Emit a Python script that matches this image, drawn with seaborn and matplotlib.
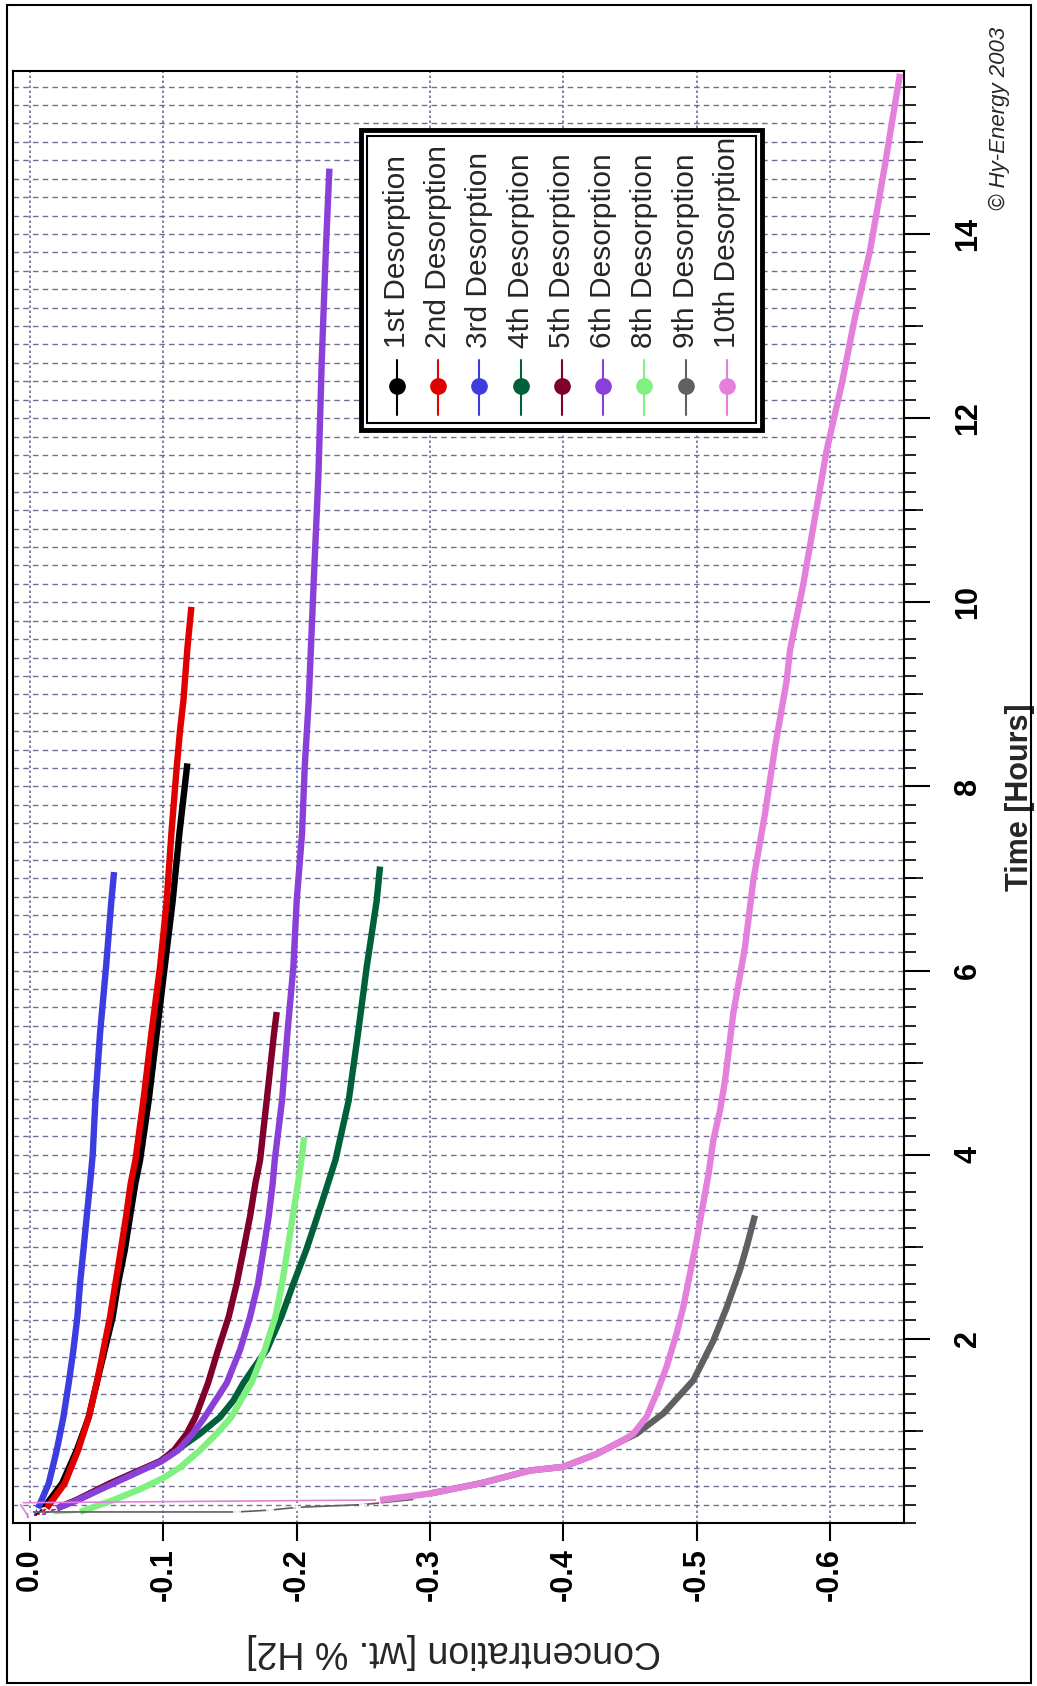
import numpy as np
import pandas as pd
import matplotlib
matplotlib.use('Agg')
import matplotlib.pyplot as plt
import seaborn as sns
from matplotlib.patches import Rectangle
from matplotlib.ticker import MultipleLocator

# desorption runs: time [h] and concentration [wt.% H2]
labels = ['1st Desorption', '2nd Desorption', '3rd Desorption', '4th Desorption',
          '5th Desorption', '6th Desorption', '8th Desorption', '9th Desorption',
          '10th Desorption']
colors = ['#000000', '#e00000', '#3c3ce0', '#00603a', '#80002a', '#8a40d8',
          '#80f080', '#606060', '#e480dc']

t1 = [0.06, 0.16, 0.43, 0.79, 1.15, 1.52, 1.88, 2.24, 2.60, 2.96, 3.33, 3.69, 3.94, 4.59, 5.32, 6.04, 6.76, 7.49, 8.25]
c1 = [-0.002, -0.010, -0.024, -0.035, -0.044, -0.050, -0.056, -0.062, -0.066, -0.071, -0.075, -0.079, -0.0825, -0.089, -0.095, -0.101, -0.107, -0.112, -0.118]

t2 = [0.06, 0.16, 0.43, 0.79, 1.15, 1.52, 1.88, 2.24, 2.60, 2.96, 3.33, 3.69, 3.94, 4.59, 5.32, 6.04, 6.76, 7.49, 8.21, 8.61, 8.93, 9.5, 9.95]
c2 = [-0.003, -0.0125, -0.026, -0.036, -0.044, -0.050, -0.055, -0.060, -0.064, -0.068, -0.072, -0.0755, -0.079, -0.085, -0.091, -0.0975, -0.1025, -0.106, -0.110, -0.1125, -0.115, -0.118, -0.121]

t3 = [0.06, 0.16, 0.43, 0.79, 1.15, 1.52, 1.88, 2.24, 2.60, 2.96, 3.33, 3.69, 4.0, 4.59, 5.32, 6.04, 6.76, 7.07]
c3 = [-0.002, -0.006, -0.014, -0.020, -0.025, -0.029, -0.0325, -0.0355, -0.0375, -0.040, -0.0425, -0.045, -0.047, -0.049, -0.0525, -0.057, -0.061, -0.063]

t4 = [0.08, 0.16, 0.25, 0.43, 0.67, 0.79, 0.97, 1.15, 1.33, 1.52, 1.70, 1.88, 2.24, 2.60, 2.96, 3.33, 3.69, 3.94, 4.59, 5.32, 6.04, 6.76, 7.13]
c4 = [-0.008, -0.02, -0.035, -0.06, -0.0975, -0.11, -0.1275, -0.1425, -0.1525, -0.160, -0.1685, -0.1775, -0.1885, -0.1975, -0.207, -0.2155, -0.2235, -0.229, -0.239, -0.246, -0.2525, -0.26, -0.2625]

t5 = [0.08, 0.16, 0.25, 0.43, 0.67, 0.79, 0.97, 1.15, 1.52, 1.88, 2.24, 2.60, 2.96, 3.33, 3.69, 3.94, 4.59, 5.32, 5.55]
c5 = [-0.008, -0.02, -0.035, -0.06, -0.0975, -0.108, -0.1175, -0.124, -0.1335, -0.141, -0.149, -0.155, -0.160, -0.165, -0.169, -0.1725, -0.1775, -0.183, -0.185]

t6 = [0.08, 0.16, 0.25, 0.43, 0.67, 0.79, 0.97, 1.15, 1.52, 1.88, 2.24, 2.60, 2.96, 3.33, 3.69, 3.94, 4.59, 5.32, 6.04, 6.76, 7.49, 8.21, 8.93, 10.14, 11.39, 12.63, 13.88, 14.71]
c6 = [-0.008, -0.02, -0.036, -0.0625, -0.0985, -0.111, -0.122, -0.131, -0.1475, -0.1575, -0.165, -0.171, -0.175, -0.179, -0.182, -0.1835, -0.189, -0.193, -0.1975, -0.200, -0.204, -0.206, -0.209, -0.2125, -0.2163, -0.2188, -0.222, -0.2245]

t8 = [0.10, 0.12, 0.25, 0.37, 0.49, 0.61, 0.79, 0.97, 1.15, 1.33, 1.52, 1.88, 2.24, 2.60, 2.96, 3.33, 3.69, 4.05, 4.19]
c8 = [-0.015, -0.0375, -0.0625, -0.083, -0.100, -0.113, -0.1275, -0.140, -0.151, -0.158, -0.166, -0.176, -0.184, -0.189, -0.193, -0.197, -0.201, -0.2045, -0.2055]

t9 = [0.04, 0.12, 0.12, 0.14, 0.17, 0.20, 0.26, 0.32, 0.43, 0.57, 0.61, 0.75, 0.90, 0.97, 1.19, 1.55, 1.98, 2.34, 2.75, 3.00, 3.34]
c9 = [0.003, 0.001, -0.155, -0.180, -0.200, -0.250, -0.290, -0.300, -0.3375, -0.375, -0.400, -0.425, -0.445, -0.455, -0.475, -0.4975, -0.5125, -0.5225, -0.5325, -0.5375, -0.5437]

t10 = [0.04, 0.22, 0.25, 0.32, 0.43, 0.57, 0.61, 0.75, 0.90, 0.97, 1.154, 1.41, 1.70, 2.06, 2.35, 2.71, 3.07, 3.40, 3.80, 4.16, 4.48, 4.81, 5.54, 6.26, 6.98, 7.71, 8.43, 9.15, 9.48, 10.2, 10.93, 11.65, 12.37, 13.10, 13.82, 14.73, 15.74]
c10 = [0.000, 0.008, -0.2625, -0.300, -0.3375, -0.375, -0.400, -0.425, -0.445, -0.4525, -0.4625, -0.470, -0.4775, -0.485, -0.490, -0.495, -0.500, -0.504, -0.509, -0.5125, -0.5175, -0.5213, -0.5275, -0.5363, -0.5425, -0.5513, -0.5588, -0.5675, -0.570, -0.580, -0.5888, -0.5975, -0.6088, -0.6188, -0.630, -0.641, -0.6525]

times = [t1, t2, t3, t4, t5, t6, t8, t9, t10]
concs = [c1, c2, c3, c4, c5, c6, c8, c9, c10]
# number of sparse leading points drawn as a thin line
head = [1, 1, 1, 1, 1, 1, 1, 7, 2]

conc_ticks = [0.0, -0.1, -0.2, -0.3, -0.4, -0.5, -0.6]
time_ticks = [2, 4, 6, 8, 10, 12, 14]
odd_hours = [1, 3, 5, 7, 9, 11, 13, 15]

rows = []
for name, tt, cc in zip(labels, times, concs):
    for a, b in zip(tt, cc):
        rows.append({'series': name, 'time': a, 'conc': b})
df = pd.DataFrame(rows)

sns.set_theme(style='white')
plt.rcParams['font.family'] = ['Liberation Sans', 'DejaVu Sans']
plt.rcParams['axes.unicode_minus'] = False

W, H = 1037, 1686
fig = plt.figure(figsize=(W / 100, H / 100), dpi=100)
fig.patch.set_facecolor('white')
ax = fig.add_axes([13 / W, 1 - 1523 / H, (904 - 13) / W, (1523 - 71) / H])

for i, (name, col) in enumerate(zip(labels, colors)):
    sub = df[df['series'] == name]
    k = head[i]
    sns.lineplot(data=sub.iloc[:k + 1], x='conc', y='time', sort=False, estimator=None,
                 color=col, lw=1.2, marker='+', ms=6, mew=1.2, ax=ax)
    sns.lineplot(data=sub.iloc[k:], x='conc', y='time', sort=False, estimator=None,
                 color=col, lw=4.6, ax=ax, solid_capstyle='butt')

ax.set_xlim(0.0128, -0.6555)
ax.set_ylim(0, 15.77)

ax.set_xticks(conc_ticks)
ax.set_xticklabels([f'{v:.1f}' for v in conc_ticks], rotation=90, fontsize=22,
                   fontweight='bold', ha='center', va='top')
ax.yaxis.tick_right()
ax.set_yticks(time_ticks)
ax.set_yticklabels([str(v) for v in time_ticks], rotation=90, fontsize=22,
                   fontweight='bold', ha='left', va='center')
ax.yaxis.set_minor_locator(MultipleLocator(0.2))

ax.tick_params(axis='x', which='major', length=13, width=1.5, pad=5, colors='black',
               direction='out', bottom=True)
ax.tick_params(axis='y', which='major', length=18.5, width=1.5, pad=17, colors='black',
               direction='out', right=True, left=False)
ax.tick_params(axis='y', which='minor', length=8.5, width=1.2, colors='black',
               direction='out', right=True, left=False)

sec = ax.secondary_yaxis('right')
sec.set_yticks(odd_hours)
sec.tick_params(length=13.5, width=1.2, labelright=False, colors='black')
sec.spines['right'].set_visible(False)

ax.grid(which='both', axis='y', color='#6e6e96', lw=1.0, ls=(0, (4, 3)))
ax.grid(which='major', axis='x', color='#6e6e96', lw=1.2, ls=(0, (1.5, 1.5)))
ax.set_axisbelow(True)
for s in ax.spines.values():
    s.set_color('black')
    s.set_linewidth(1.5)

ax.set_xlabel('Concentration [wt. % H2]', fontsize=27, rotation=180, va='center')
ax.xaxis.set_label_coords(0.495, -0.088)
ax.yaxis.set_label_position('right')
ax.set_ylabel('Time [Hours]', fontsize=22, fontweight='bold', rotation=90,
              va='center', ha='center')
ax.yaxis.set_label_coords(1.13, 0.5)

# legend box, drawn by hand because the whole chart is turned on its side
lx0, ly0, lx1, ly1 = 358, 127, 765, 432
lax = fig.add_axes([lx0 / W, 1 - ly1 / H, (lx1 - lx0) / W, (ly1 - ly0) / H])
lax.set_xlim(lx0, lx1)
lax.set_ylim(ly1, ly0)
lax.axis('off')
lax.add_patch(Rectangle((lx0 + 2.5, ly0 + 2.5), lx1 - lx0 - 5, ly1 - ly0 - 5, fill=True,
                        fc='white', ec='black', lw=3.5, clip_on=False))
lax.add_patch(Rectangle((lx0 + 9, ly0 + 9), lx1 - lx0 - 18, ly1 - ly0 - 18, fill=False,
                        ec='black', lw=1.5, clip_on=False))
for i, (name, col) in enumerate(zip(labels, colors)):
    x = 397 + 41.25 * i
    lax.plot([x, x], [360, 415], color=col, lw=1.5)
    lax.plot([x], [386], marker='o', ms=11, color=col, mec=col)
    lax.text(x, 348, name, rotation=90, ha='center', va='bottom', fontsize=21.5)

fig.text(999 / W, 1 - 118 / H, '\u00a9 Hy-Energy 2003', rotation=90, style='italic',
         fontsize=16, ha='center', va='center')

fig.add_artist(Rectangle((7 / W, 1 - 1683 / H), (1031 - 7) / W, (1683 - 5) / H,
                         transform=fig.transFigure, fill=False, ec='black', lw=1.5))

fig.savefig('out.png', dpi=100)
